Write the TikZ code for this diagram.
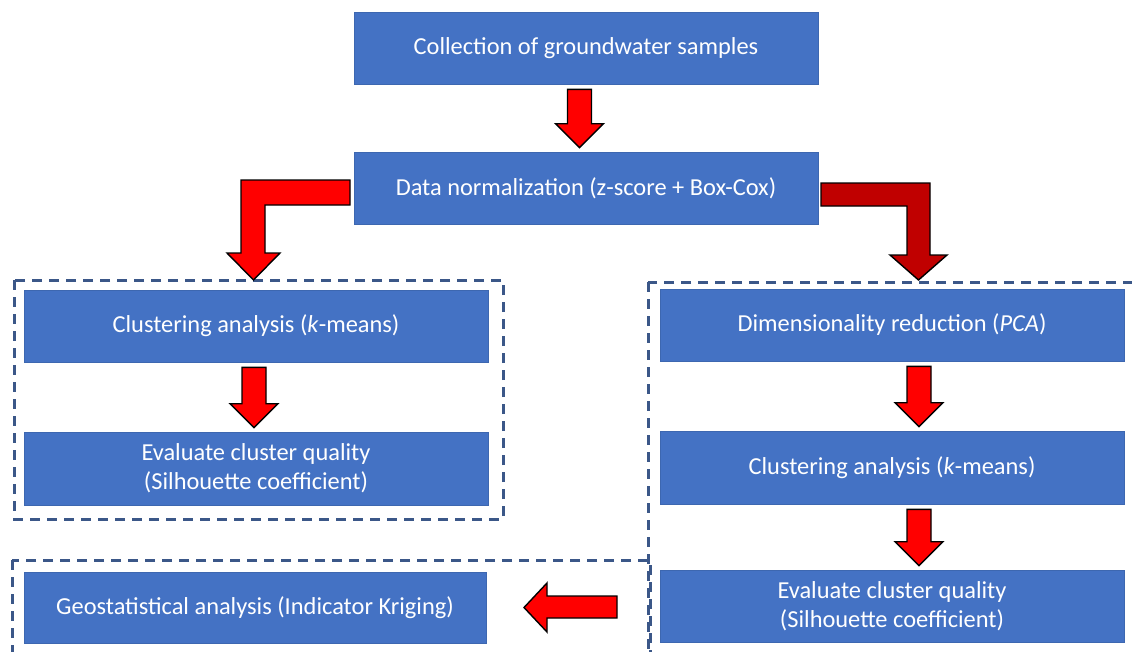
\documentclass[tikz,border=0pt]{standalone}
\usepackage{fontspec}
\setmainfont{Carlito}
\usetikzlibrary{calc}

\definecolor{boxblue}{HTML}{4472C4}
\definecolor{frameblue}{HTML}{3B5788}
\definecolor{arrowred}{HTML}{FF0000}
\definecolor{darkred}{HTML}{C00000}

\tikzset{
  stepbox/.style={rectangle,fill=boxblue,draw=boxblue!90!black,line width=0.6pt,
    text=white,minimum width=464pt,minimum height=72pt,inner sep=0pt,
    align=center,font=\fontsize{24.4}{29}\selectfont},
  frame/.style={draw=frameblue,line width=3pt,dash pattern=on 10pt off 7pt},
  blockarrow/.style={draw=black,line width=1.4pt,fill=arrowred,line join=miter}
}

% down block arrow: #1 x position, #2 upper box, #3 lower box
\newcommand{\downblock}[3]{%
  \draw[blockarrow] ($(#1,0 |- #2.south)+(-12,5)$) -- ++(24,0)
    -- ($(#1,0 |- #3.north)+(12,-28)$) -- ++(12,0)
    -- ($(#1,0 |- #3.north)+(0,-4)$) -- ++(-24,-24) -- ++(12,0) -- cycle;}

\begin{document}
\begin{tikzpicture}[x=1pt,y=-1pt]
  \clip (0,0) rectangle (1132,651);
  \fill[white] (0,0) rectangle (1132,651);

  % dashed frames
  \draw[frame] (14,280) rectangle (503,519);
  \draw[frame] (648,282) rectangle (1145,665);
  \draw[frame] (12,560) rectangle (650,665);

  % boxes
  \node[stepbox] (collect) at (586,48) {Collection of groundwater samples};
  \node[stepbox] (norm) at (586,188) {Data normalization (z-score + Box-Cox)};
  \node[stepbox] (kmeansL) at (256,326) {Clustering analysis (\textit{k}-means)};
  \node[stepbox,minimum height=73pt] (evalL) at (256,468.5)
    {Evaluate cluster quality\\(Silhouette coefficient)};
  \node[stepbox,minimum width=462pt,minimum height=71pt] (geo) at (255,607.5)
    {Geostatistical analysis (Indicator Kriging)};
  \node[stepbox] (pca) at (892,325) {Dimensionality reduction (\textit{PCA})};
  \node[stepbox,minimum height=73pt] (kmeansR) at (892,467.5)
    {Clustering analysis (\textit{k}-means)};
  \node[stepbox] (evalR) at (892,606)
    {Evaluate cluster quality\\(Silhouette coefficient)};

  % arrows
  \downblock{579.5}{collect}{norm}
  \downblock{254}{kmeansL}{evalL}
  \downblock{919}{pca}{kmeansR}
  \downblock{919}{kmeansR}{evalR}

  \draw[blockarrow] (350,180) -- (241,180) -- (241,253) -- (227,253) -- (253.5,280)
    -- (280,253) -- (265,253) -- (265,205) -- (350,205) -- cycle;
  \draw[blockarrow,fill=darkred] (821,183) -- (930,183) -- (930,255) -- (947,255)
    -- (918.5,280) -- (890,255) -- (907,255) -- (907,206) -- (821,206) -- cycle;

  \draw[blockarrow] (617,596) -- (547,596) -- (547,583) -- (524,607.5) -- (547,632)
    -- (547,618) -- (617,618) -- cycle;
\end{tikzpicture}
\end{document}
